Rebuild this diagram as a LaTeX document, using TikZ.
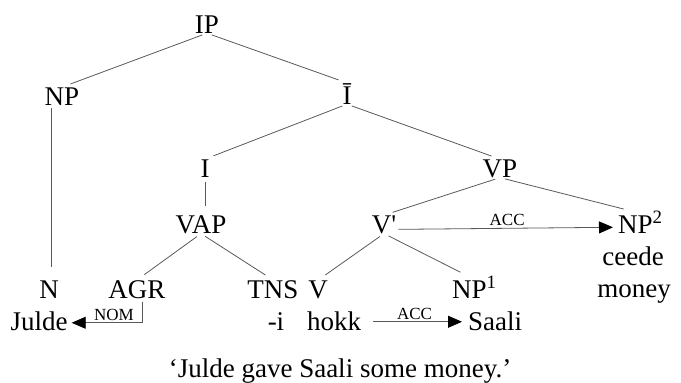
\documentclass[tikz,border=0pt]{standalone}
\usepackage{fontspec}
\setmainfont{Liberation Serif}
\usetikzlibrary{arrows.meta}

\begin{document}
\begin{tikzpicture}[x=1pt,y=-1pt,>={Triangle[length=14pt,width=12pt,color=black]},
  lab/.style={anchor=base,inner sep=0pt,font=\fontsize{27}{32}\selectfont},
  labw/.style={lab,anchor=base west},
  branch/.style={draw=black!65,line width=0.8pt,shorten <=5pt,shorten >=9pt},
  casearrow/.style={draw=black!65,line width=0.8pt,->},
  case/.style={inner sep=2pt,font=\fontsize{17}{20}\selectfont}]
  \useasboundingbox (0,0) rectangle (681,383);
  \node[lab] (IP) at (207,33) {IP};
  \node[lab] (NP) at (62,105) {NP};
  \node[lab] (Ibar) at (347,104) {\=I};
  \node[lab] (I) at (205,177) {I};
  \node[lab] (VP) at (500,177) {VP};
  \node[lab] (VAP) at (201,233) {VAP};
  \node[lab] (Vbar) at (384,233) {V\textquotesingle};
  \node[labw] (NPtwo) at (618,233) {NP\textsuperscript{2}};
  \node[lab] (ceede) at (633,265) {ceede};
  \node[lab] (money) at (634,297) {money};
  \node[lab] (N) at (49,298) {N};
  \node[lab] (AGR) at (137,298) {AGR};
  \node[lab] (TNS) at (273,298) {TNS};
  \node[lab] (V) at (318,298) {V};
  \node[labw] (NPone) at (452,298) {NP\textsuperscript{1}};
  \node[lab] (Julde) at (39,330) {Julde};
  \node[lab] (tns) at (276,330) {-i};
  \node[lab] (hokk) at (334,330) {hokk};
  \node[labw] (Saali) at (468,330) {Saali};
  \node[lab] (gloss) at (340,377) {`Julde gave Saali some money.'};

  \draw[branch] (IP.south) -- (NP.north);
  \draw[branch] (IP.south) -- (Ibar.north);
  \draw[branch] (Ibar.south) -- (I.north);
  \draw[branch] (Ibar.south) -- (VP.north);
  \draw[branch] (I.south) -- (I.south |- VAP.north);
  \draw[branch] (VAP.south) -- (AGR.north);
  \draw[branch] (VAP.south) -- (TNS.north);
  \draw[branch] (VP.south) -- (Vbar.north);
  \draw[branch] (VP.south) -- ([xshift=-8pt]NPtwo.north);
  \draw[branch] (Vbar.south) -- (V.north);
  \draw[branch] (Vbar.south) -- ([xshift=-6pt]NPone.north);
  \draw[branch,shorten <=3pt,shorten >=13pt] ([xshift=2pt]N.north |- NP.south) -- ([xshift=2pt]N.north);

  \draw[casearrow] ([xshift=5pt,yshift=-4pt]AGR.south) |- ([xshift=4pt,yshift=-2pt]Julde.east)
    node[case,above,pos=0.7] (nom) {NOM};
  \draw[casearrow,shorten <=12pt,shorten >=6pt] ([yshift=-1pt]hokk.east) -- ([yshift=-1pt]Saali.west)
    node[case,above,midway] (accone) {ACC};
  \draw[casearrow,shorten <=2pt,shorten >=5pt] ([yshift=-5pt]Vbar.east) -- ([yshift=-5pt]NPtwo.west)
    node[case,above,midway] (acctwo) {ACC};
\end{tikzpicture}
\end{document}
